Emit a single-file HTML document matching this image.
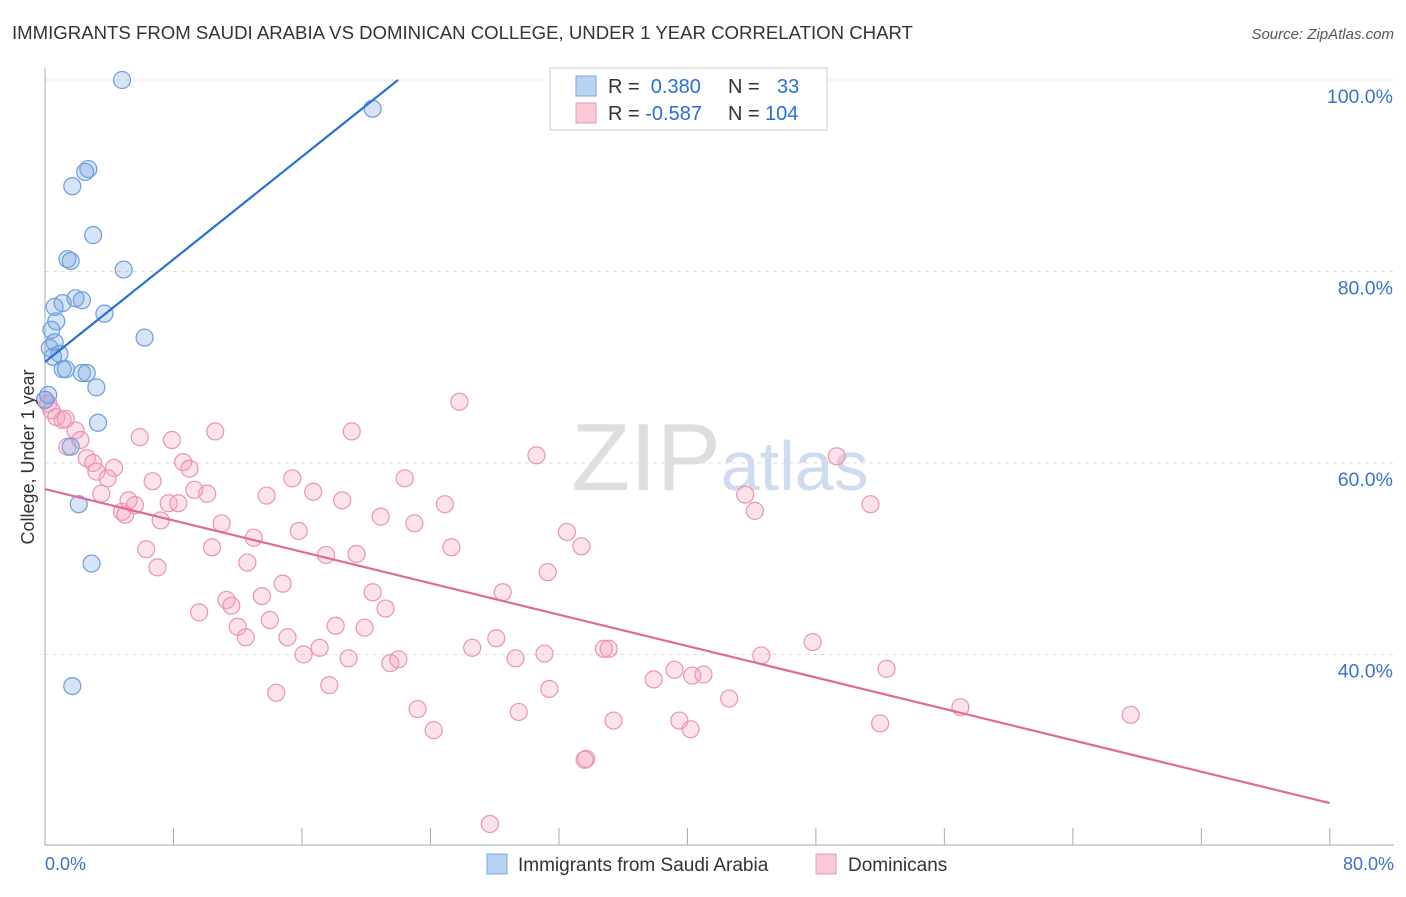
<!DOCTYPE html>
<html><head><meta charset="utf-8"><style>
body{margin:0;background:#fff;font-family:"Liberation Sans",sans-serif;}
svg text{font-family:"Liberation Sans",sans-serif;}
</style></head><body>
<svg width="1406" height="892">
<text x="12" y="39" font-size="18.6" fill="#333">IMMIGRANTS FROM SAUDI ARABIA VS DOMINICAN COLLEGE, UNDER 1 YEAR CORRELATION CHART</text>
<text x="1394" y="39" font-size="15" fill="#555" font-style="italic" text-anchor="end">Source: ZipAtlas.com</text>
<text x="720" y="490" font-size="96" fill="#ddd" text-anchor="middle" font-family="Liberation Serif"><tspan fill="#dedede">ZIP</tspan><tspan fill="#cfdcf0" font-family="Liberation Sans" font-size="70">atlas</tspan></text>
<g id="grid"></g><g id="axes"></g><g id="pts"></g><g id="lines"></g>
<text transform="translate(34,457) rotate(-90)" font-size="18" fill="#333" text-anchor="middle">College, Under 1 year</text>
<g>
<rect x="550" y="68" width="277" height="62" fill="#fff" stroke="#ccc"/>
<rect x="576" y="76" width="20" height="20" fill="#b9d3f3" stroke="#7aa6de"/>
<rect x="576" y="103" width="20" height="20" fill="#f9c9d8" stroke="#ea9ab5"/>
<text x="608" y="93" font-size="20" fill="#333">R = <tspan fill="#2a6fd6">&#160;0.380</tspan><tspan x="728">N = </tspan><tspan x="777" fill="#2a6fd6">33</tspan></text>
<text x="608" y="120" font-size="20" fill="#333">R = <tspan fill="#2a6fd6">-0.587</tspan><tspan x="728">N = </tspan><tspan x="765" fill="#2a6fd6">104</tspan></text>
</g>
<g>
<rect x="487" y="854" width="20" height="20" fill="#b9d3f3" stroke="#7aa6de"/>
<text x="518" y="871" font-size="19" fill="#333">Immigrants from Saudi Arabia</text>
<rect x="816" y="854" width="20" height="20" fill="#f9c9d8" stroke="#ea9ab5"/>
<text x="848" y="871" font-size="19" fill="#333">Dominicans</text>
</g>
</svg>
<script>
const xTicks=[0,8,16,24,32,40,48,56,64,72,80];
const yTicks=[40,60,80,100];
const blueX=[4.8,20.4,2.7,2.5,1.7,3.0,1.4,1.6,4.9,0.6,1.1,1.9,2.3,3.7,0.7,0.4,6.2,0.6,0.3,0.9,0.5,1.1,1.3,2.3,2.6,3.2,0.2,3.3,1.6,2.1,2.9,1.7,0.0];
const blueY=[100,97.0,90.7,90.4,88.9,83.8,81.3,81.1,80.2,76.3,76.7,77.2,77.0,75.6,74.8,73.9,73.1,72.6,72.0,71.4,71.1,69.8,69.8,69.4,69.4,67.9,67.1,64.2,61.7,55.7,49.5,36.7,66.6];
const pinkX=[0.2,0.4,0.7,1.1,1.3,1.9,2.2,1.4,2.6,3.0,3.2,4.3,3.9,3.5,4.8,5.0,5.2,5.6,5.9,6.3,6.7,7.0,7.2,7.7,7.9,8.3,8.6,9.0,9.3,9.6,10.1,10.4,10.6,11.0,11.3,11.6,12.0,12.5,12.6,13.0,13.5,13.8,14.0,14.4,14.8,15.1,15.4,15.8,16.1,16.7,17.1,17.5,17.7,18.1,18.5,18.9,19.1,19.4,19.9,20.4,20.9,21.2,21.5,22.0,22.4,23.0,23.2,24.2,24.9,25.3,25.8,26.6,27.7,28.1,28.5,29.3,29.5,30.6,31.1,31.3,31.4,32.5,33.4,33.7,33.6,34.8,35.1,35.4,37.9,39.2,39.5,40.2,40.3,41.0,42.6,43.6,44.2,44.6,47.8,49.3,51.4,52.0,52.4,57.0,67.6,0];
const pinkY=[66.2,65.5,64.8,64.5,64.6,63.4,62.4,61.7,60.5,60.0,59.1,59.5,58.4,56.8,54.9,54.6,56.1,55.6,62.7,51.0,58.1,49.1,54.0,55.8,62.4,55.8,60.1,59.4,57.2,44.4,56.8,51.2,63.3,53.7,45.7,45.1,42.9,41.8,49.6,52.2,46.1,56.6,43.6,36.0,47.4,41.8,58.4,52.9,40.0,57.0,40.7,50.4,36.8,43.0,56.1,39.6,63.3,50.5,42.8,46.5,54.4,44.8,39.1,39.5,58.4,53.7,34.3,32.1,55.7,51.2,66.4,40.7,22.3,41.7,46.5,39.6,34.0,60.8,40.1,48.6,36.4,52.8,51.3,29.1,29.0,40.6,40.6,33.1,37.4,38.4,33.1,32.2,37.8,37.9,35.4,56.7,55.0,39.9,41.3,60.7,55.7,32.8,38.5,34.5,33.7,66.6];
const blueLine=[70.55,1.34];
const pinkLine=[57.28,-0.41];
const NS='http://www.w3.org/2000/svg';
const X=v=>45+v*16.06, Y=v=>80+(100-v)*9.575;
function mk(p,t,a){const e=document.createElementNS(NS,t);for(const k in a)e.setAttribute(k,a[k]);document.getElementById(p).appendChild(e);return e;}
let e=mk('axes','line',{x1:45,y1:68,x2:45,y2:845,stroke:'#aaa'});


e=mk('axes','line',{x1:45,y1:845,x2:1394,y2:845,stroke:'#aaa'});


xTicks.forEach((t,i)=>{const l=mk('axes','line',{x1:X(t),y1:828,x2:X(t),y2:845,stroke:'#aaa'});

});
[0,80].forEach((t,i)=>{const s=mk('axes','text',{x:i?1394:45,y:870,'font-size':18,fill:'#3a72d0','text-anchor':i?'end':'start'});s.textContent=t.toFixed(1)+'%';

});
yTicks.forEach(t=>{const g=mk('grid','line',{x1:45,y1:Y(t),x2:1394,y2:Y(t),stroke:'#ddd','stroke-dasharray':'4,4'});


const s=mk('axes','text',{x:1393,y:Y(t)+23,'font-size':19.5,fill:'#3a72d0','text-anchor':'end'});s.textContent=t.toFixed(1)+'%';

});
pinkX.forEach((x,i)=>{const c=mk('pts','circle',{cx:X(x),cy:Y(pinkY[i]),r:8.5,fill:'rgba(244,160,190,0.3)',stroke:'#eb94b2','stroke-width':1.2});

});
blueX.forEach((x,i)=>{const c=mk('pts','circle',{cx:X(x),cy:Y(blueY[i]),r:8.5,fill:'rgba(120,165,225,0.3)',stroke:'#6d9ddb','stroke-width':1.2});

});
const bx2=(100-blueLine[0])/blueLine[1];
e=mk('lines','line',{x1:X(0),y1:Y(blueLine[0]),x2:X(bx2),y2:Y(100),stroke:'#2a6fd6','stroke-width':2.2});


e=mk('lines','line',{x1:X(0),y1:Y(pinkLine[0]),x2:X(80),y2:Y(pinkLine[0]+80*pinkLine[1]),stroke:'#e0699a','stroke-width':2.2});


</script>
</body></html>
